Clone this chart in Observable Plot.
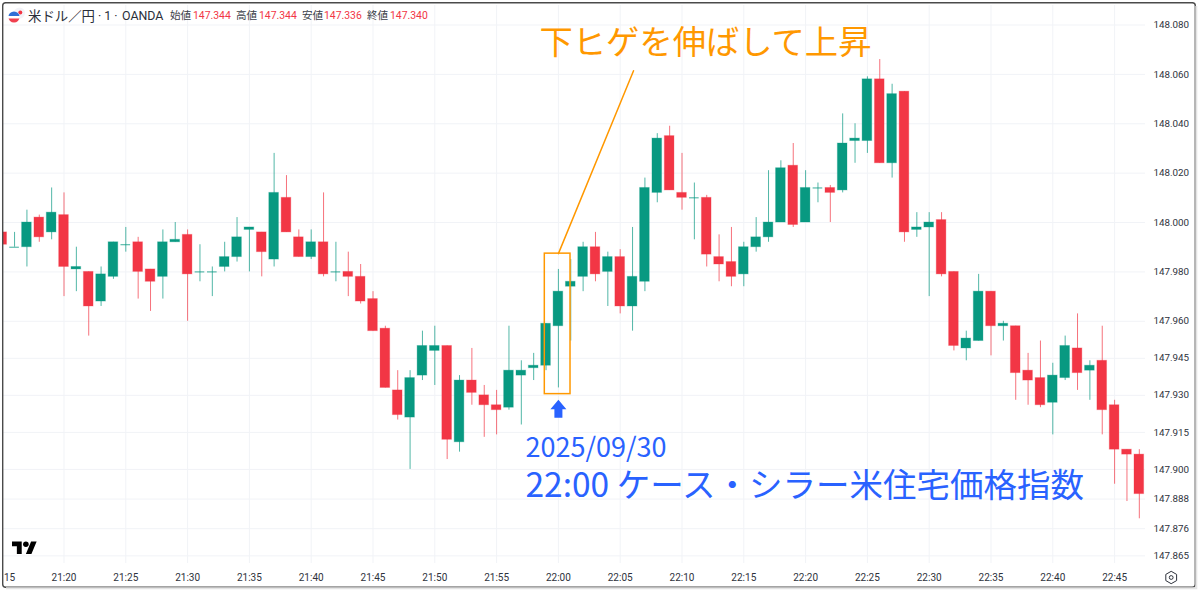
<!DOCTYPE html>
<html lang="ja">
<head>
<meta charset="utf-8">
<script src="https://cdn.jsdelivr.net/npm/d3@7"></script>
<script src="https://cdn.jsdelivr.net/npm/@observablehq/plot@0.6"></script>
<style>
html,body{margin:0;padding:0;background:#fff;overflow:hidden}
#wrap{position:relative;width:1200px;height:592px;font-family:Roboto,"Noto Sans CJK JP",sans-serif}
#wrap svg{display:block}
#deco{position:absolute;left:0;top:0}
.h{position:absolute;white-space:nowrap;line-height:1}
</style>
</head>
<body>
<div id="wrap"></div>
<script>
// one candle per minute, starting at 21:15
const opens = [147.996,147.990,147.990,148.002,147.996,148.003,147.981,147.980,147.968,147.978,147.991,147.992,147.981,147.978,147.992,147.995,147.980,147.980,147.982,147.986,147.997,147.996,147.985,148.010,147.994,147.986,147.992,147.980,147.980,147.978,147.969,147.957,147.932,147.921,147.938,147.948,147.950,147.911,147.936,147.930,147.926,147.925,147.938,147.941,147.942,147.958,147.974,147.978,147.990,147.980,147.986,147.966,147.976,148.012,148.035,148.012,148.010,148.010,147.986,147.984,147.979,147.990,147.994,148.000,148.023,148.000,148.014,148.014,148.013,148.033,148.033,148.058,148.024,148.053,147.997,147.998,148.001,147.980,147.949,147.952,147.972,147.958,147.958,147.940,147.937,147.927,147.937,147.949,147.940,147.944,147.926,147.908,147.906];
const highs = [147.996,147.996,148.005,148.003,148.014,148.012,147.990,147.980,147.982,147.992,147.998,147.994,147.981,147.997,148.000,147.997,147.991,147.982,147.992,148.002,147.998,147.996,148.028,148.019,147.997,147.997,148.012,147.992,147.988,147.983,147.972,147.958,147.940,147.940,147.956,147.958,147.950,147.938,147.949,147.934,147.932,147.958,147.944,147.947,147.959,147.981,147.985,147.992,147.996,147.988,147.989,147.998,148.018,148.036,148.039,148.028,148.016,148.011,147.995,147.998,147.992,148.002,148.021,148.025,148.032,148.021,148.016,148.015,148.044,148.040,148.059,148.066,148.056,148.053,148.004,148.004,148.004,147.980,147.956,147.979,147.972,147.960,147.958,147.947,147.952,147.943,147.954,147.963,147.944,147.958,147.928,147.908,147.908];
const lows = [147.991,147.990,147.982,147.992,147.993,147.970,147.972,147.954,147.966,147.977,147.988,147.969,147.964,147.969,147.992,147.960,147.976,147.970,147.980,147.984,147.980,147.978,147.982,147.996,147.986,147.985,147.978,147.976,147.970,147.967,147.956,147.933,147.920,147.900,147.936,147.934,147.904,147.907,147.926,147.913,147.914,147.924,147.918,147.936,147.940,147.933,147.952,147.972,147.976,147.966,147.963,147.956,147.972,148.008,148.013,148.005,147.993,147.982,147.976,147.974,147.974,147.988,147.992,148.000,147.998,148.000,148.008,148.000,148.012,148.024,148.028,148.024,148.018,147.992,147.994,147.970,147.978,147.948,147.944,147.952,147.946,147.952,147.928,147.926,147.925,147.914,147.936,147.932,147.928,147.914,147.894,147.887,147.880];
const closes = [147.991,147.990,148.000,147.994,148.004,147.982,147.982,147.966,147.979,147.992,147.991,147.980,147.976,147.992,147.993,147.979,147.980,147.980,147.986,147.994,147.998,147.988,148.012,147.996,147.986,147.992,147.979,147.980,147.978,147.968,147.956,147.933,147.922,147.937,147.950,147.950,147.912,147.936,147.931,147.926,147.924,147.940,147.940,147.942,147.959,147.972,147.976,147.990,147.979,147.986,147.966,147.978,148.014,148.034,148.013,148.010,148.010,147.987,147.983,147.978,147.990,147.994,148.000,148.022,147.999,148.014,148.014,148.012,148.032,148.034,148.058,148.024,148.052,147.996,147.998,148.000,147.979,147.950,147.953,147.972,147.958,147.959,147.939,147.936,147.926,147.938,147.950,147.939,147.942,147.924,147.908,147.906,147.890];

const priceTicks = [148.08,148.06,148.04,148.02,148.0,147.98,147.96,147.945,147.93,147.915,147.9,147.888,147.876,147.865];
const timeTicks = [5,10,15,20,25,30,35,40,45,50,55,60,65,70,75,80,85,90];
const timeLabels = ["21:20","21:25","21:30","21:35","21:40","21:45","21:50","21:55","22:00","22:05","22:10","22:15","22:20","22:25","22:30","22:35","22:40","22:45"];
const clippedLabel = [{t:0.6,s:"15"}];

const headerLabels = ["始値","高値","安値","終値"];
const headerValues = ["147.344","147.344","147.336","147.340"];

const green = "#089981", red = "#f23645", gridColor = "#f1f3f7", orange = "#ff9800", blue = "#2962ff", ink = "#2e323c";

const candles = opens.map((o,i)=>({t:i,open:o,high:highs[i],low:lows[i],close:closes[i],dir:closes[i]>=o?"up":"down"}));
const bodies = candles.filter(d=>d.open!==d.close);
const dojis = candles.filter(d=>d.open===d.close);
const halfBody = 0.39;

// annotations, in chart units (minutes since 21:15, price)
const calloutBox = [{x1:43.9,x2:45.98,y1:147.9305,y2:147.9874}];
const calloutLine = [{t:45,p:147.9874},{t:51.08,p:148.0615}];
const arrowShape = [{t:45,p:147.9282},{t:45.647,p:147.9244},{t:45.324,p:147.9244},{t:45.324,p:147.9209},{t:44.676,p:147.9209},{t:44.676,p:147.9244},{t:44.353,p:147.9244}];
const notes = [
  {t:43.47,p:148.0725,s:"下ヒゲを伸ばして上昇",c:orange,f:33.3},
  {t:42.34,p:147.9085,s:"2025/09/30",c:blue,f:27},
  {t:42.34,p:147.8930,s:"22:00 ケース・シラー米住宅価格指数",c:blue,f:33.5}
];
const jp = '"Noto Sans CJK JP",sans-serif';

const chart = Plot.plot({
  width:1200,height:592,
  marginTop:5,marginBottom:29,marginLeft:3,marginRight:55,
  x:{type:"linear",domain:[0.105,92.5],axis:null},
  y:{type:"linear",domain:[147.8619,148.0879],axis:null},
  color:{domain:["up","down"],range:[green,red]},
  style:{background:"transparent",fontFamily:"Roboto,sans-serif"},
  marks:[
    Plot.ruleY(priceTicks,{stroke:gridColor,strokeWidth:1}),
    Plot.ruleX(timeTicks,{stroke:gridColor,strokeWidth:1}),
    Plot.ruleX(candles,{x:"t",y1:"low",y2:"high",stroke:"dir",strokeWidth:1,strokeOpacity:0.7,clip:"frame"}),
    Plot.rect(bodies,{x1:d=>d.t-halfBody,x2:d=>d.t+halfBody,y1:"open",y2:"close",fill:"dir",stroke:"dir",strokeOpacity:0.3,strokeWidth:1,clip:"frame"}),
    Plot.ruleY(dojis,{y:"close",x1:d=>d.t-halfBody,x2:d=>d.t+halfBody,stroke:"dir",strokeWidth:1,strokeOpacity:0.8}),
    Plot.rect(calloutBox,{x1:"x1",x2:"x2",y1:"y1",y2:"y2",fill:"none",stroke:orange,strokeWidth:1.5}),
    Plot.line(calloutLine,{x:"t",y:"p",stroke:orange,strokeWidth:1.5}),
    Plot.line(arrowShape,{x:"t",y:"p",fill:blue,stroke:"none"}),
    Plot.text(notes,{x:"t",y:"p",text:"s",fill:"c",fontSize:"f",textAnchor:"start",lineAnchor:"middle",fontFamily:jp}),
    Plot.axisY(priceTicks,{anchor:"right",tickSize:0,tickPadding:8,tickFormat:".3f",fontSize:9.8,fill:ink,label:null}),
    Plot.text(timeTicks,{x:d=>d,frameAnchor:"bottom",dy:17,text:(d,i)=>timeLabels[i],fontSize:10,fill:ink,
      fontWeight:d=>timeLabels[timeTicks.indexOf(d)]==="22:00"?"bold":"normal"}),
    Plot.text(clippedLabel,{x:"t",frameAnchor:"bottom",dy:17,text:"s",fontSize:10,fill:ink})
  ]
});
const wrap = document.getElementById("wrap");
wrap.appendChild(chart);

// frame, logo, icons
wrap.insertAdjacentHTML("beforeend",`<svg id="deco" width="1200" height="592" viewBox="0 0 1200 592">
  <path d="M0 0H3V592H0Z" fill="#fff"/>
  <rect x="2.7" y="2.7" width="1192.6" height="584.6" rx="3" fill="none" stroke="#4a4a4a" stroke-width="1.4"/>
  <path d="M1196.3 6V588.3H6" fill="none" stroke="#e4e4e4" stroke-width="2"/>
  <g transform="translate(12,538.7) scale(.694)" fill="#000"><path d="M14 22H7V11H0V4h14v18zM28 22h-8l7.5-18h8L28 22z"/><circle cx="20" cy="8" r="4"/></g>
  <g fill="none" stroke="#2e323c" stroke-width="1"><path d="M1171.2 571.3l5.4 3.1v6.2l-5.4 3.1-5.4-3.1v-6.2z"/><circle cx="1171.2" cy="577.5" r="1.9"/></g>
  <circle cx="19.5" cy="13" r="5.5" fill="#f3f3f8"/><circle cx="20.3" cy="12.6" r="2" fill="#f23645"/>
  <clipPath id="fl"><circle cx="14" cy="17" r="5.6"/></clipPath>
  <g clip-path="url(#fl)"><rect x="8" y="11" width="12" height="12" fill="#fff"/><rect x="8" y="11" width="12" height="5" fill="#2f6fd6"/><rect x="8" y="18.5" width="12" height="5" fill="#f0404f"/></g>
</svg>`);
function hdr(x,txt,size,color){
  const s=document.createElement("span");s.className="h";s.textContent=txt;
  s.style.cssText=`left:${x}px;top:${17-size/2-0.5}px;font-size:${size}px;color:${color}`;
  wrap.appendChild(s);
}
hdr(28,"米ドル／円",13.4,"#2a2e39");
hdr(98,"· 1 ·",12.4,"#2a2e39");
hdr(122,"OANDA",12.4,"#2a2e39");
[170,236,302,367].forEach((x,i)=>hdr(x,headerLabels[i],10.6,"#3a3e48"));
[193,259,324,390].forEach((x,i)=>hdr(x,headerValues[i],10.4,red));
</script>
</body>
</html>
